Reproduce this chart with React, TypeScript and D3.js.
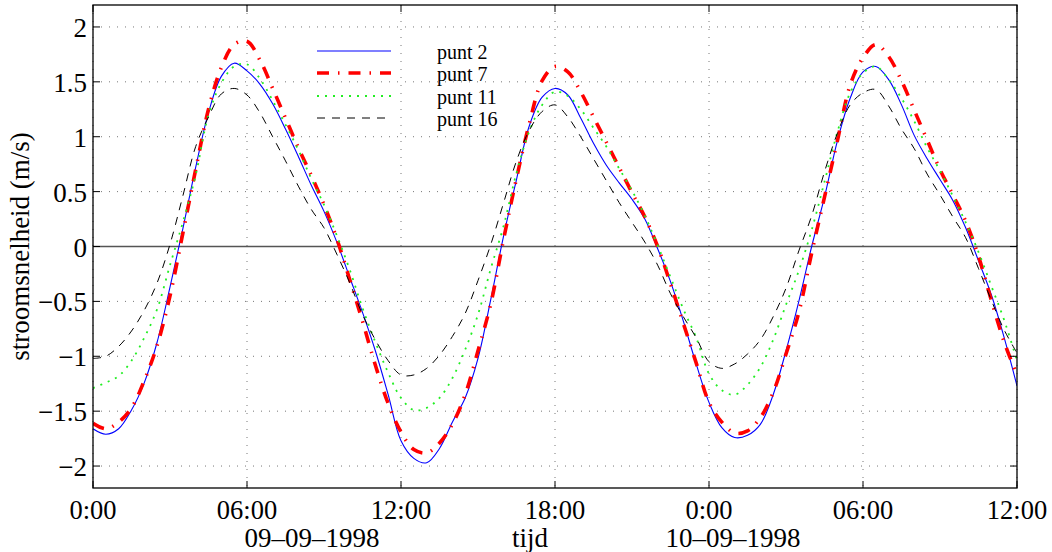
import React from "react";
import * as d3 from "d3";

// time in hours since 09-09-1998 0:00
const hours = [
  0, 0.5, 1, 1.5, 2, 2.5, 3, 3.5, 4, 4.5, 5, 5.5, 6, 6.5, 7, 7.5, 8, 8.5, 9, 9.5,
  10, 10.5, 11, 11.5, 12, 12.5, 13, 13.5, 14, 14.5, 15, 15.5, 16, 16.5, 17, 17.5,
  18, 18.5, 19, 19.5, 20, 20.5, 21, 21.5, 22, 22.5, 23, 23.5, 24, 24.5, 25, 25.5,
  26, 26.5, 27, 27.5, 28, 28.5, 29, 29.5, 30, 30.5, 31, 31.5, 32, 32.5, 33, 33.5,
  34, 34.5, 35, 35.5, 36,
];

const punt2 = [
  -1.66, -1.71, -1.66, -1.49, -1.24, -0.87, -0.37, 0.16, 0.72, 1.22, 1.55, 1.67, 1.6, 1.48, 1.3, 1.07, 0.82, 0.56, 0.32, 0.04,
  -0.28, -0.6, -0.95, -1.35, -1.77, -1.93, -1.97, -1.84, -1.6, -1.38, -1.02, -0.48, 0.1, 0.61, 1.1, 1.36,
  1.44, 1.38, 1.17, 0.94, 0.74, 0.58, 0.43, 0.25, -0.02, -0.32, -0.68, -1.07, -1.42, -1.65, -1.74, -1.72,
  -1.62, -1.35, -0.95, -0.5, 0.0, 0.45, 0.96, 1.35, 1.59, 1.64, 1.52, 1.29, 1.01, 0.8, 0.61, 0.42,
  0.17, -0.13, -0.44, -0.83, -1.27,
];

const punt7 = [
  -1.61, -1.66, -1.6, -1.47, -1.22, -0.9, -0.45, 0.12, 0.7, 1.25, 1.63, 1.84, 1.87, 1.7, 1.44, 1.17, 0.9, 0.65, 0.38, 0.07,
  -0.3, -0.68, -1.08, -1.43, -1.69, -1.85, -1.88, -1.79, -1.62, -1.35, -0.95, -0.52, 0.07, 0.62, 1.12, 1.51,
  1.64, 1.59, 1.41, 1.18, 0.95, 0.72, 0.49, 0.27, 0.0, -0.34, -0.7, -1.06, -1.42, -1.6, -1.7, -1.68,
  -1.56, -1.33, -0.98, -0.6, -0.06, 0.45, 0.96, 1.47, 1.72, 1.84, 1.73, 1.51, 1.24, 0.97, 0.7, 0.47,
  0.23, -0.09, -0.49, -0.87, -1.17,
];

const punt11 = [
  -1.29, -1.24, -1.18, -1.04, -0.83, -0.57, -0.17, 0.22, 0.65, 1.2, 1.49, 1.64, 1.66, 1.53, 1.33, 1.11, 0.88, 0.62, 0.38, 0.1,
  -0.21, -0.56, -0.87, -1.15, -1.38, -1.49, -1.47, -1.38, -1.2, -0.94, -0.62, -0.2, 0.19, 0.67, 1.05, 1.29,
  1.41, 1.37, 1.25, 1.08, 0.91, 0.71, 0.51, 0.28, 0.01, -0.28, -0.57, -0.83, -1.16, -1.31, -1.35, -1.26,
  -1.1, -0.85, -0.53, -0.22, 0.15, 0.59, 1.04, 1.4, 1.58, 1.64, 1.52, 1.35, 1.14, 0.9, 0.69, 0.46,
  0.22, -0.05, -0.36, -0.67, -1.04,
];

const punt16 = [
  -1.02, -1.0, -0.91, -0.77, -0.58, -0.33, 0.02, 0.46, 0.91, 1.18, 1.39, 1.44, 1.38, 1.22, 1.0, 0.78, 0.55, 0.34, 0.17, -0.07,
  -0.33, -0.62, -0.85, -1.04, -1.17, -1.17, -1.11, -0.99, -0.82, -0.61, -0.31, 0.02, 0.4, 0.78, 1.06, 1.23,
  1.29, 1.18, 1.0, 0.8, 0.6, 0.4, 0.22, 0.04, -0.17, -0.43, -0.64, -0.83, -1.05, -1.11, -1.07, -0.98,
  -0.85, -0.64, -0.38, -0.04, 0.28, 0.68, 1.03, 1.29, 1.4, 1.43, 1.28, 1.07, 0.89, 0.66, 0.47, 0.27,
  0.08, -0.2, -0.49, -0.76, -0.97,
];

const xTickHours = [0, 6, 12, 18, 24, 30, 36];
const xTickLabels = ["0:00", "06:00", "12:00", "18:00", "0:00", "06:00", "12:00"];
const yTicks = [-2, -1.5, -1, -0.5, 0, 0.5, 1, 1.5, 2];
const seriesNames = ["punt 2", "punt 7", "punt 11", "punt 16"];

const W = 1052;
const H = 552;
const L = 93, R = 1017, T = 5, B = 488;
const FONT = "'Liberation Serif', 'Times New Roman', serif";

const styles = [
  { color: "#0000ff", width: 1.1, dash: "" },
  { color: "#ff0000", width: 3.6, dash: "12,9,1.5,9" },
  { color: "#22ee22", width: 1.8, dash: "2,6" },
  { color: "#000000", width: 1, dash: "8,7" },
];

function fmt(v: number) {
  const s = String(Math.abs(v));
  return v < 0 ? "\u2212" + s : s;
}

export default function App() {
  const x = d3.scaleLinear().domain([0, 36]).range([L, R]);
  const y = d3.scaleLinear().domain([-2.2, 2.2]).range([B, T]);
  const data = [punt2, punt7, punt11, punt16];
  const line = d3
    .line<number>()
    .x((_, i) => x(hours[i]))
    .y((d) => y(d))
    .curve(d3.curveCatmullRom.alpha(0.5));

  const tick = 7;
  const legX1 = 317, legX2 = 391, legTextX = 437;
  const legY = [51, 73, 96, 118];

  return (
    <svg
      width={W}
      height={H}
      style={{ position: "absolute", left: 0, top: 0, background: "#fff" }}
      fontFamily={FONT}
    >
      <rect x={0} y={0} width={W} height={H} fill="#fff" />
      <defs>
        <clipPath id="plotclip">
          <rect x={L} y={T} width={R - L} height={B - T} />
        </clipPath>
      </defs>
      {/* grid */}
      <g stroke="#777" strokeWidth={1} strokeDasharray="1,7">
        {yTicks.map((v) => (
          <line key={"gy" + v} x1={L} x2={R} y1={y(v)} y2={y(v)} />
        ))}
        {xTickHours.map((h) => (
          <line key={"gx" + h} x1={x(h)} x2={x(h)} y1={T} y2={B} />
        ))}
      </g>
      {/* zero line */}
      <line x1={L} x2={R} y1={y(0)} y2={y(0)} stroke="#555" strokeWidth={1.6} />
      {/* series */}
      <g clipPath="url(#plotclip)" fill="none">
        {data.map((s, i) => (
          <path
            key={seriesNames[i]}
            d={line(s) || ""}
            stroke={styles[i].color}
            strokeWidth={styles[i].width}
            strokeDasharray={styles[i].dash || undefined}
          />
        ))}
      </g>
      {/* legend */}
      {seriesNames.map((n, i) => (
        <g key={"leg" + n}>
          <line
            x1={legX1}
            x2={legX2}
            y1={legY[i]}
            y2={legY[i]}
            stroke={styles[i].color}
            strokeWidth={styles[i].width}
            strokeDasharray={styles[i].dash || undefined}
          />
          <text x={legTextX} y={legY[i] + 8} fontSize={20} fill="#000">
            {n}
          </text>
        </g>
      ))}
      {/* axes box */}
      <rect x={L} y={T} width={R - L} height={B - T} fill="none" stroke="#000" strokeWidth={1.3} />
      {/* ticks */}
      <g stroke="#000" strokeWidth={1}>
        {yTicks.map((v) => (
          <g key={"ty" + v}>
            <line x1={L} x2={L + tick} y1={y(v)} y2={y(v)} />
            <line x1={R} x2={R - tick} y1={y(v)} y2={y(v)} />
          </g>
        ))}
        {xTickHours.map((h) => (
          <g key={"tx" + h}>
            <line x1={x(h)} x2={x(h)} y1={B} y2={B - tick} />
            <line x1={x(h)} x2={x(h)} y1={T} y2={T + tick} />
          </g>
        ))}
      </g>
      {/* y tick labels */}
      {yTicks.map((v) => (
        <text key={"ly" + v} x={87} y={y(v) + 10} fontSize={27} textAnchor="end" fill="#000">
          {fmt(v)}
        </text>
      ))}
      {/* x tick labels */}
      {xTickHours.map((h, i) => (
        <text key={"lx" + h} x={x(h)} y={519} fontSize={26.5} textAnchor="middle" fill="#000">
          {xTickLabels[i]}
        </text>
      ))}
      {/* second row labels */}
      <text x={312} y={547} fontSize={27} textAnchor="middle" fill="#000">
        09–09–1998
      </text>
      <text x={530} y={547} fontSize={27} textAnchor="middle" fill="#000">
        tijd
      </text>
      <text x={733} y={547} fontSize={27} textAnchor="middle" fill="#000">
        10–09–1998
      </text>
      {/* y label */}
      <text
        transform={`translate(28.5, ${(T + B) / 2}) rotate(-90)`}
        fontSize={27}
        textAnchor="middle"
        fill="#000"
      >
        stroomsnelheid (m/s)
      </text>
    </svg>
  );
}
